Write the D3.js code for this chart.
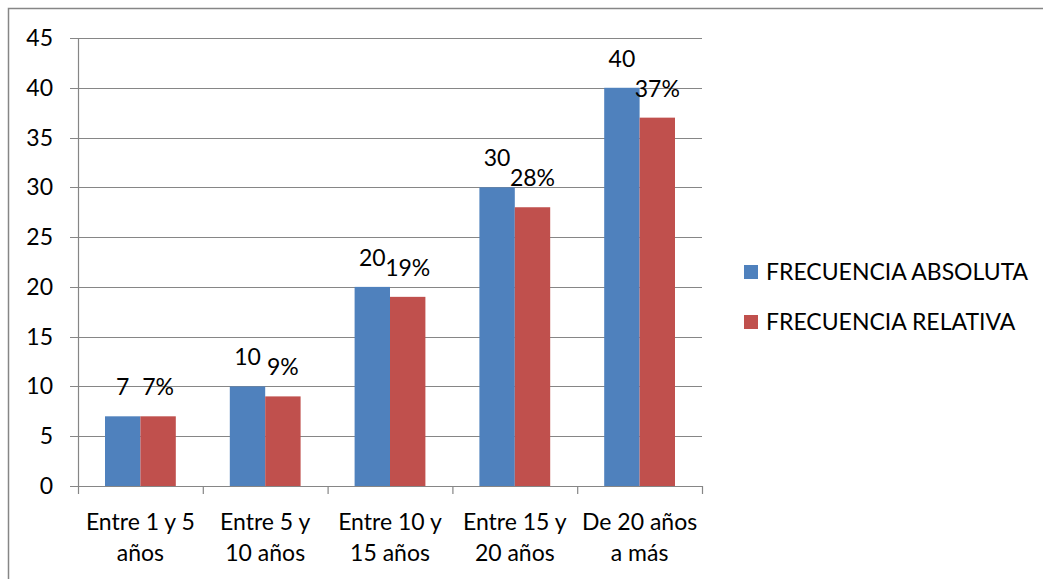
<!DOCTYPE html>
<html>
<head>
<meta charset="utf-8">
<script src="https://cdn.jsdelivr.net/npm/d3@7"></script>
<style>
  body { margin: 0; background: #fff; }
  svg text { font-family: Lato, "Open Sans", sans-serif; fill: #000; }
</style>
</head>
<body>
<div id="chart"></div>
<script>
// Chart data
var categories = [
  ['Entre 1 y 5', 'años'],
  ['Entre 5 y', '10 años'],
  ['Entre 10 y', '15 años'],
  ['Entre 15 y', '20 años'],
  ['De 20 años', 'a más']
];
var absoluta = [7, 10, 20, 30, 40];
var relativa = [7, 9, 19, 28, 37];
var seriesNames = ['FRECUENCIA ABSOLUTA', 'FRECUENCIA RELATIVA'];
var seriesColors = ['#4F81BD', '#C0504D'];
var yTicks = [0, 5, 10, 15, 20, 25, 30, 35, 40, 45];

var width = 1043, height = 579;
var plot = { left: 78, right: 702, top: 38, bottom: 486 };
var fontSize = '23px';

var svg = d3.select('#chart').append('svg')
  .attr('width', width)
  .attr('height', height);

// outer frame (runs off the bottom/right edge like the source)
svg.append('rect')
  .attr('x', 8.5).attr('y', 8.5)
  .attr('width', 1100).attr('height', 600)
  .attr('fill', 'none')
  .attr('stroke', '#868686')
  .attr('stroke-width', 1.5);

var x = d3.scaleBand()
  .domain(d3.range(categories.length))
  .range([plot.left, plot.right])
  .paddingInner(0).paddingOuter(0);

var inner = d3.scaleBand()
  .domain([0, 1])
  .range([27, x.bandwidth() - 27]);

var y = d3.scaleLinear()
  .domain([0, 45])
  .range([plot.bottom, plot.top]);

// gridlines
svg.append('g').selectAll('line')
  .data(yTicks)
  .enter().append('line')
    .attr('x1', plot.left - 8).attr('x2', plot.right)
    .attr('y1', function(d) { return Math.round(y(d)) + 0.5; })
    .attr('y2', function(d) { return Math.round(y(d)) + 0.5; })
    .attr('stroke', '#868686')
    .attr('stroke-width', 1.2);

// y tick labels
svg.append('g').selectAll('text')
  .data(yTicks)
  .enter().append('text')
    .attr('x', 53)
    .attr('y', function(d) { return y(d); })
    .attr('dy', '0.35em')
    .attr('text-anchor', 'end')
    .style('font-size', fontSize)
    .text(function(d) { return d; });

// bars
var series = [absoluta, relativa];
series.forEach(function(vals, si) {
  svg.append('g').selectAll('rect')
    .data(vals)
    .enter().append('rect')
      .attr('x', function(d, i) { return x(i) + inner(si); })
      .attr('y', function(d) { return y(d); })
      .attr('width', inner.bandwidth())
      .attr('height', function(d) { return plot.bottom - y(d); })
      .attr('fill', seriesColors[si]);
});

// axes lines
svg.append('line')
  .attr('x1', plot.left + 0.5).attr('x2', plot.left + 0.5)
  .attr('y1', plot.top).attr('y2', plot.bottom)
  .attr('stroke', '#868686').attr('stroke-width', 1.2);
svg.append('line')
  .attr('x1', plot.left).attr('x2', plot.right)
  .attr('y1', plot.bottom + 0.5).attr('y2', plot.bottom + 0.5)
  .attr('stroke', '#868686').attr('stroke-width', 1.2);

// category tick marks
svg.append('g').selectAll('line')
  .data(d3.range(categories.length + 1))
  .enter().append('line')
    .attr('x1', function(i) { return x.step() * i + plot.left + 0.5; })
    .attr('x2', function(i) { return x.step() * i + plot.left + 0.5; })
    .attr('y1', plot.bottom).attr('y2', plot.bottom + 8)
    .attr('stroke', '#868686').attr('stroke-width', 1.2);

// category labels
var catG = svg.append('g').selectAll('text')
  .data(categories)
  .enter().append('text')
    .attr('text-anchor', 'middle')
    .style('font-size', fontSize);
catG.each(function(lines, i) {
  var t = d3.select(this);
  lines.forEach(function(l, li) {
    t.append('tspan')
      .attr('x', x(i) + x.bandwidth() / 2)
      .attr('y', 522 + li * 31)
      .attr('dy', '0.35em')
      .text(l);
  });
});

// data labels
series.forEach(function(vals, si) {
  svg.append('g').selectAll('text')
    .data(vals)
    .enter().append('text')
      .attr('x', function(d, i) { return x(i) + inner(si) + inner.bandwidth() / 2; })
      .attr('y', function(d) { return y(d) - 29; })
      .attr('dy', '0.35em')
      .attr('text-anchor', 'middle')
      .style('font-size', fontSize)
      .text(function(d) { return si === 0 ? d : d + '%'; });
});

// legend
var legend = svg.append('g').selectAll('g')
  .data(seriesNames)
  .enter().append('g')
    .attr('transform', function(d, i) { return 'translate(744,' + (272 + i * 50) + ')'; });
legend.append('rect')
  .attr('x', 0).attr('y', -7)
  .attr('width', 14).attr('height', 14)
  .attr('fill', function(d, i) { return seriesColors[i]; });
legend.append('text')
  .attr('x', 22).attr('y', 0)
  .attr('dy', '0.35em')
  .style('font-size', fontSize)
  .text(function(d) { return d; });
</script>
</body>
</html>
